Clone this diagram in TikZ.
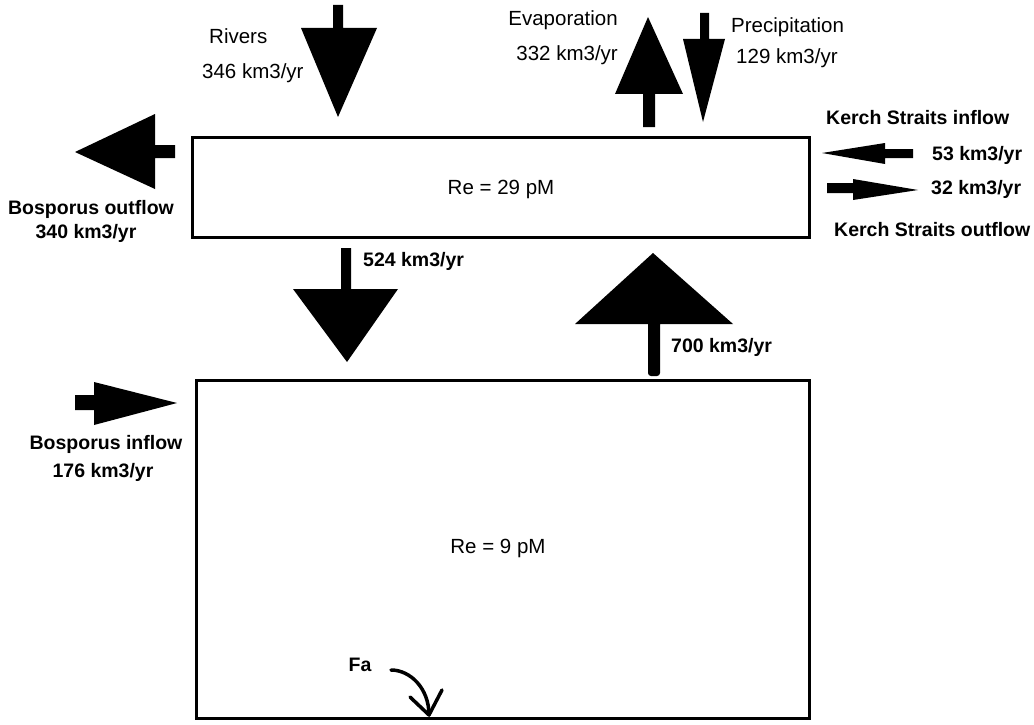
\documentclass[tikz,border=0pt]{standalone}
\usepackage{fontspec}
\setmainfont{Liberation Sans}
\begin{document}
\begin{tikzpicture}[x=1pt,y=-1pt,
  reg/.style={font=\fontsize{20.5}{24}\selectfont, inner sep=0pt},
  bld/.style={font=\fontsize{19.5}{22}\selectfont\bfseries, inner sep=0pt},
  boxline/.style={draw=black, line width=3pt},
  flow/.style={fill=black},
]
\useasboundingbox (0,0) rectangle (1034,725);

% reservoirs
\draw[boxline] (192,137) rectangle (809,237);
\draw[boxline] (196,380) rectangle (809,718);
\node[reg] (upper) at (501,189) {Re = 29 pM};
\node[reg] (lower) at (498,548) {Re = 9 pM};

% rivers (down)
\fill[flow] (333,5) -- (343,5) -- (343,28) -- (377,28) -- (338,117) -- (301,28) -- (333,28) -- cycle;
\node[reg, anchor=mid west] (rivers) at (209,41) {Rivers};
\node[reg, anchor=mid west] (riversq) at (202,76) {346 km3/yr};

% evaporation (up)
\fill[flow] (648,17) -- (683,94) -- (655,94) -- (655,127) -- (643,127) -- (643,94) -- (615,94) -- cycle;
\node[reg, anchor=mid east] (evap) at (618,23) {Evaporation};
\node[reg, anchor=mid east] (evapq) at (618,58) {332 km3/yr};

% precipitation (down)
\fill[flow] (700,13) -- (709,13) -- (709,39) -- (725,39) -- (703,122) -- (683,39) -- (700,39) -- cycle;
\node[reg, anchor=mid west] (precip) at (731,30) {Precipitation};
\node[reg, anchor=mid west] (precipq) at (736,61) {129 km3/yr};

% Bosporus outflow (left)
\fill[flow] (75,152) -- (155,114) -- (155,145) -- (175,145) -- (175,158) -- (155,158) -- (155,189) -- cycle;
\node[bld] (bout) at (91,209) {Bosporus outflow};
\node[bld] (boutq) at (86,233) {340 km3/yr};

% Kerch Straits inflow (left)
\fill[flow] (822,153) -- (885,143) -- (885,149) -- (913,149) -- (913,158) -- (885,158) -- (885,164) -- cycle;
\node[bld, anchor=mid west] (kin) at (826,122) {Kerch Straits inflow};
\node[bld, anchor=mid west] (kinq) at (932,158) {53 km3/yr};

% Kerch Straits outflow (right)
\fill[flow] (827,183) -- (853,183) -- (853,179) -- (918,190) -- (853,200) -- (853,193) -- (827,193) -- cycle;
\node[bld, anchor=mid west] (koutq) at (931,192) {32 km3/yr};
\node[bld, anchor=mid west] (kout) at (834,234) {Kerch Straits outflow};

% downward exchange
\fill[flow] (341,248) -- (351,248) -- (351,289) -- (398,289) -- (347,362) -- (293,289) -- (341,289) -- cycle;
\node[bld, anchor=mid west] (down) at (363,264) {524 km3/yr};

% upward exchange
\fill[flow] (653,253) -- (733,324) -- (660,324) -- (660,372) [rounded corners=3pt] -- (660,376) -- (648,376) [sharp corners] -- (648,324) -- (575,324) -- cycle;
\node[bld, anchor=mid west] (up) at (671,350) {700 km3/yr};

% Bosporus inflow (right)
\fill[flow] (75,395) -- (94,395) -- (94,382) -- (177,403) -- (94,425) -- (94,410) -- (75,410) -- cycle;
\node[bld] (bin) at (106,444) {Bosporus inflow};
\node[bld] (binq) at (103,472) {176 km3/yr};

% sinking flux
\node[bld] (fa) at (360,665) {Fa};
\coordinate (fastart) at (391,670);
\coordinate (fatip) at (429,715);
\draw[line width=3.5pt, line cap=round, line join=round]
  (fastart) .. controls (410,670) and (429,688) .. (fatip);
\draw[line width=3.5pt, line cap=round, line join=round]
  (410,697) -- (fatip) -- (442,690);
\end{tikzpicture}
\end{document}
